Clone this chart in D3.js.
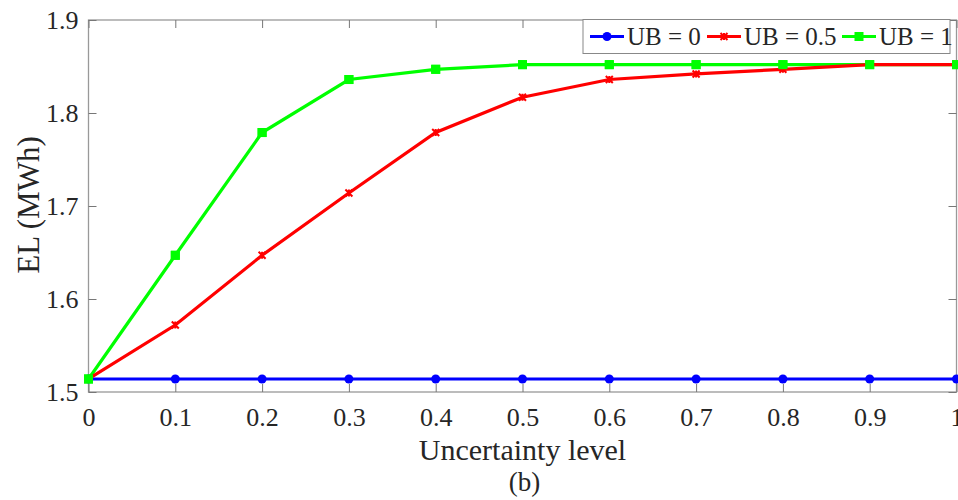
<!DOCTYPE html>
<html><head><meta charset="utf-8">
<script src="https://cdn.jsdelivr.net/npm/d3@7"></script>
<style>body{margin:0;background:#fff}svg{display:block}</style>
</head><body><svg id="c" width="958" height="500"></svg>
<script>
const xValues = [0,0.1,0.2,0.3,0.4,0.5,0.6,0.7,0.8,0.9,1];
const ub0 = [1.514,1.514,1.514,1.514,1.514,1.514,1.514,1.514,1.514,1.514,1.514];
const ub05 = [1.514,1.572,1.647,1.714,1.779,1.817,1.836,1.842,1.847,1.852,1.852];
const ub1 = [1.514,1.647,1.779,1.836,1.847,1.852,1.852,1.852,1.852,1.852,1.852];
const seriesNames = ["UB = 0","UB = 0.5","UB = 1"];
const xTicks = [0,0.1,0.2,0.3,0.4,0.5,0.6,0.7,0.8,0.9,1];
const yTicks = [1.5,1.6,1.7,1.8,1.9];

const FONT = "'Liberation Serif', 'Times New Roman', 'DejaVu Serif', serif";
const svg = d3.select("#c");
const L=88.5,R=956.5,T=20,B=392;
const x = d3.scaleLinear().domain([0,1]).range([L,R]);
const y = d3.scaleLinear().domain([1.5,1.9]).range([B,T]);
const axisColor="#999", tickColor="#777";

svg.append("rect").attr("x",L).attr("y",T).attr("width",R-L).attr("height",B-T)
  .attr("fill","none").attr("stroke",axisColor).attr("stroke-width",1.3);

const fmt = d=> d===0?"0":d===1?"1":d3.format(".1f")(d);
const gb = svg.append("g").attr("transform",`translate(0,${B})`)
  .call(d3.axisBottom(x).tickValues(xTicks).tickFormat(fmt).tickSizeInner(-8).tickSizeOuter(0).tickPadding(0));
const gt = svg.append("g").attr("transform",`translate(0,${T})`)
  .call(d3.axisTop(x).tickValues(xTicks).tickFormat("").tickSizeInner(-8).tickSizeOuter(0));
const gl = svg.append("g").attr("transform",`translate(${L},0)`)
  .call(d3.axisLeft(y).tickValues(yTicks).tickFormat(d3.format(".1f")).tickSizeInner(-8).tickSizeOuter(0).tickPadding(0));
const gr = svg.append("g").attr("transform",`translate(${R},0)`)
  .call(d3.axisRight(y).tickValues(yTicks).tickFormat("").tickSizeInner(-8).tickSizeOuter(0));
[gb,gt,gl,gr].forEach(g=>{
  g.attr("font-family",null).attr("font-size",null);
  g.select(".domain").remove();
  g.selectAll(".tick line").attr("stroke",tickColor).attr("stroke-width",1);
  g.selectAll(".tick text").style("font-size","26px");
});
gb.selectAll(".tick text").attr("y",34).attr("dy",null);
gl.selectAll(".tick text").attr("x",-10).attr("dy","0.33em");

svg.append("text").attr("x",(L+R)/2).attr("y",460).attr("text-anchor","middle").style("font-size","30px").text("Uncertainty level");
svg.append("text").attr("x",(L+R)/2+2).attr("y",491).attr("text-anchor","middle").style("font-size","27px").text("(b)");
svg.append("text").attr("transform","translate(39,205) rotate(-90)").attr("text-anchor","middle").style("font-size","31px").text("EL (MWh)");

const series = [
  {name:seriesNames[0],vals:ub0,color:"#0000ff",marker:"circle"},
  {name:seriesNames[1],vals:ub05,color:"#ff0000",marker:"x"},
  {name:seriesNames[2],vals:ub1,color:"#00ff00",marker:"square"}
];
const line = d3.line().x((d,i)=>x(xValues[i])).y(d=>y(d));
function drawMarker(g,type,cx,cy,color){
  if(type==="circle") g.append("circle").attr("cx",cx).attr("cy",cy).attr("r",4.5).attr("fill",color);
  else if(type==="square") g.append("rect").attr("x",cx-4.5).attr("y",cy-4.5).attr("width",9).attr("height",9).attr("fill",color);
  else {
    const s=3.5;
    g.append("path").attr("d",`M${cx-s},${cy-s}L${cx+s},${cy+s}M${cx-s},${cy+s}L${cx+s},${cy-s}M${cx},${cy-s}L${cx},${cy+s}`)
      .attr("stroke",color).attr("stroke-width",2);
  }
}
const plot = svg.append("g");
[series[0],series[2],series[1]].forEach(s=>{
  plot.append("path").datum(s.vals).attr("d",line).attr("fill","none").attr("stroke",s.color).attr("stroke-width",3.2);
  s.vals.forEach((v,i)=>drawMarker(plot,s.marker,x(xValues[i]),y(v),s.color));
});
series[2].vals.forEach((v,i)=>drawMarker(plot,"square",x(xValues[i]),y(v),series[2].color));

const lg = svg.append("g");
lg.append("rect").attr("x",583).attr("y",19.5).attr("width",367).attr("height",34).attr("fill","#fff").attr("stroke","#888").attr("stroke-width",1);
const lx=[590,707,842];
series.forEach((s,i)=>{
  const cy=36.5;
  lg.append("line").attr("x1",lx[i]).attr("x2",lx[i]+34).attr("y1",cy).attr("y2",cy).attr("stroke",s.color).attr("stroke-width",3.2);
  drawMarker(lg,s.marker,lx[i]+17,cy,s.color);
  lg.append("text").attr("x",lx[i]+37).attr("y",45).style("font-size","25px").text(s.name);
});
svg.selectAll("text").style("font-family",FONT).attr("fill","#262626");
</script></body></html>
